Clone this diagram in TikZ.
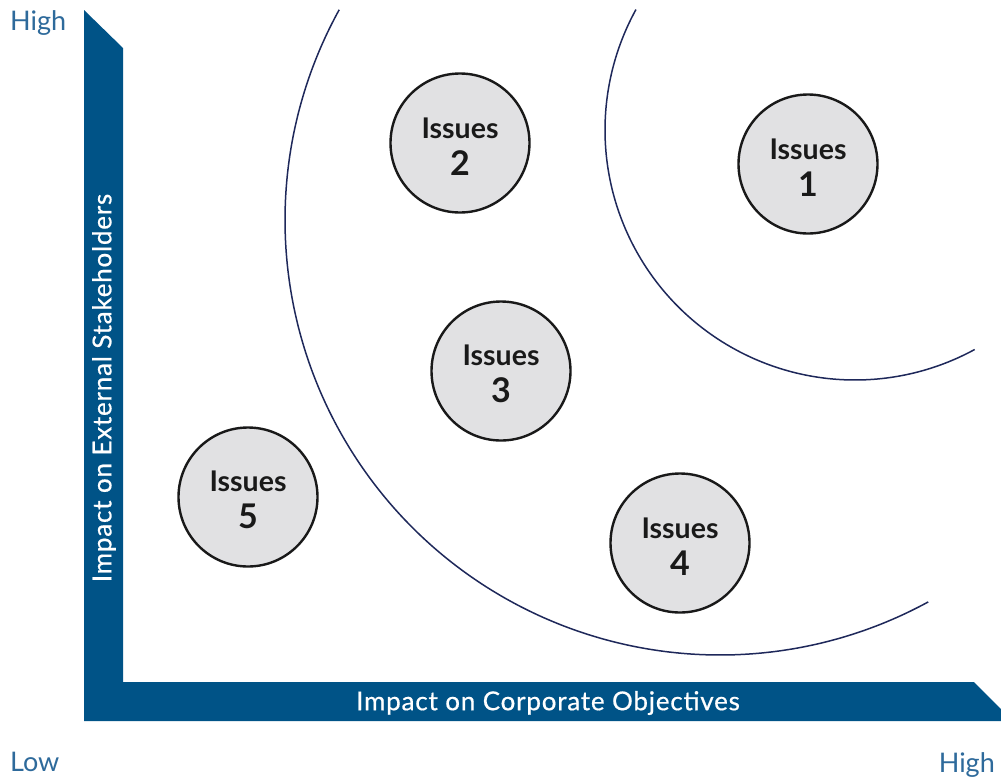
\documentclass[tikz,border=0pt]{standalone}
\usepackage{fontspec}
\setmainfont{Lato}
\definecolor{barblue}{RGB}{0,83,135}
\definecolor{lblblue}{RGB}{46,106,155}
\definecolor{arcnavy}{RGB}{30,40,90}
\definecolor{issuefill}{RGB}{225,225,227}
\begin{document}
\begin{tikzpicture}[x=1pt,y=-1pt,
  issue/.style={circle,draw=black!90,line width=2.4pt,fill=issuefill,minimum size=139pt,inner sep=0pt,align=center,text=black!90,
    font=\fontsize{28.5}{37}\selectfont\bfseries},
  corner/.style={text=lblblue,font=\fontsize{27}{30}\selectfont,inner sep=0pt},
  axislbl/.style={text=white,font=\fontsize{26}{28}\selectfont\addfontfeature{LetterSpace=3,FakeBold=0.6},inner sep=0pt},
  ring/.style={draw=arcnavy,line width=1.5pt}]
\useasboundingbox (0,0) rectangle (1001,780);
% axes bar
\fill[barblue] (84,10) -- (123,48) -- (123,682) -- (974,682) -- (1001,709) -- (1001,721) -- (84,721) -- cycle;
% rings
\draw[ring] plot[domain=208.9:61.4,samples=200,smooth] ({720+435*cos(\x)},{220+435*sin(\x)});
\draw[ring] plot[domain=208.8:61.4,samples=200,smooth] ({855+250*cos(\x)},{130+250*sin(\x)});
% issues
\newcommand{\iss}[1]{\rule{0pt}{27pt}Issues\\{\fontsize{34}{37}\selectfont #1}}
\node[issue] (i1) at (808,164) {\iss{1}};
\node[issue] (i2) at (460,143) {\iss{2}};
\node[issue] (i3) at (501,371) {\iss{3}};
\node[issue] (i4) at (680,543) {\iss{4}};
\node[issue] (i5) at (248,497) {\iss{5}};
% labels
\node[axislbl] (xl) at (548,703) {Impact on Corporate Objectives};
\node[axislbl,rotate=90] (yl) at (104,388) {Impact on External Stakeholders};
\node[corner,anchor=north west] (hi) at (10,10) {High};
\node[corner,anchor=north west] (lo) at (10,752) {Low};
\node[corner,anchor=north east] (hx) at (995,752) {High};
\end{tikzpicture}
\end{document}
